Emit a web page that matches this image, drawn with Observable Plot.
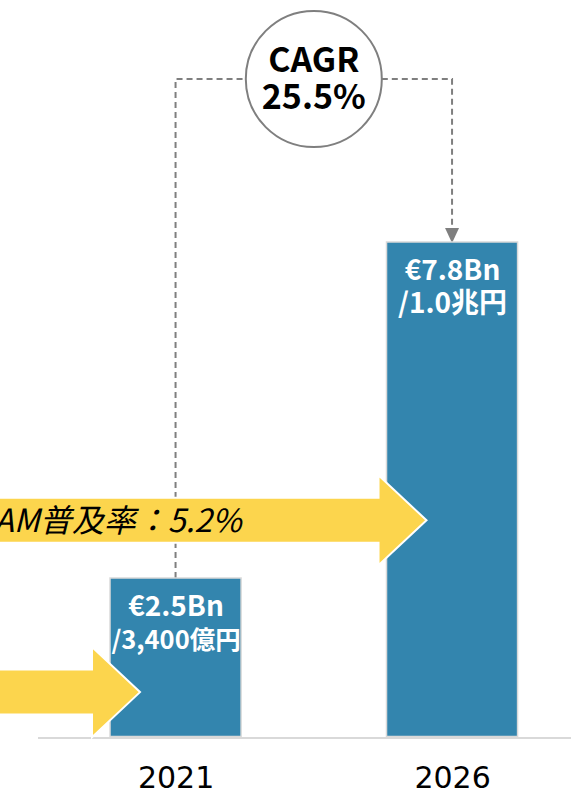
<!DOCTYPE html>
<html><head><meta charset="utf-8">
<script src="https://cdn.jsdelivr.net/npm/d3@7"></script>
<script src="https://cdn.jsdelivr.net/npm/@observablehq/plot@0.6"></script>
<style>
html,body{margin:0;padding:0;background:#fff;}
#chart{width:571px;height:795px;overflow:hidden;}
</style></head><body><div id="chart"></div>
<script>
// ---- data ----
const years = ["2021", "2026"];
const marketEur = [2.5, 7.8];               // € billions
const labelEur = ["€2.5Bn", "€7.8Bn"];
const labelJpy = ["/3,400億円", "/1.0兆円"];
const cagrLines = ["CAGR", "25.5%"];
const arrowTargets = ["2021", "2026"];
const arrowLevels = [0.70, 3.41];           // in € billions (value axis)
const arrowLabels = ["", "SAM普及率：5.2%"];

const data = years.map((year, i) => ({year, value: marketEur[i], eur: labelEur[i], jpy: labelJpy[i]}));
const arrows = arrowTargets.map((target, i) => ({target, level: arrowLevels[i], label: arrowLabels[i]}));

// ---- styles ----
const FONT = "'Noto Sans CJK JP', 'Noto Sans', sans-serif";
const BAR = "#3385ae";
const YELLOW = "#fcd54d";
const GREY = "#7f7f7f";

function bw(sx) { return typeof sx.bandwidth === "function" ? sx.bandwidth() : sx.bandwidth; }

// dashed CAGR connector with circle
function connector(index, scales) {
  const sx = scales.x, sy = scales.y, b = bw(sx);
  const x0 = sx(years[0]) + b / 2, x1 = sx(years[1]) + b / 2;
  const y0 = sy(marketEur[0]), y1 = sy(marketEur[1]);
  const top = 79, cx = (x0 + x1) / 2, r = 68;
  const g = d3.create("svg:g");
  g.append("path")
    .attr("d", `M${x0},${y0}V${top}H${cx - r}M${cx + r},${top}H${x1}V${y1 - 13}`)
    .attr("fill", "none").attr("stroke", GREY).attr("stroke-width", 2).attr("stroke-dasharray", "6,4");
  g.append("path")
    .attr("d", `M${x1 - 7},${y1 - 14}L${x1 + 7},${y1 - 14}L${x1},${y1 + 1}Z`)
    .attr("fill", GREY);
  g.append("circle").attr("cx", cx).attr("cy", top).attr("r", r)
    .attr("fill", "white").attr("stroke", GREY).attr("stroke-width", 2);
  const t = g.append("text").attr("text-anchor", "middle").attr("font-size", 34)
    .attr("font-weight", "bold").attr("font-family", FONT).attr("fill", "#000");
  t.append("tspan").attr("x", cx).attr("y", top - 19).attr("dy", "0.35em").text(cagrLines[0]);
  t.append("tspan").attr("x", cx).attr("y", top + 18).attr("dy", "0.35em").text(cagrLines[1]);
  return g.node();
}

// yellow block arrows pointing into the bars
const tipInset = [30, 40];
function yellowArrows(index, scales) {
  const sx = scales.x, sy = scales.y;
  const g = d3.create("svg:g");
  arrows.forEach((a, i) => {
    const tip = sx(a.target) + tipInset[i];
    const cy = sy(a.level);
    const bh = 22.5, hh = 45, hl = 48, base = tip - hl;
    g.append("path")
      .attr("d", `M-20,${cy - bh}H${base}V${cy - hh}L${tip},${cy}L${base},${cy + hh}V${cy + bh}H-20Z`)
      .attr("fill", YELLOW).attr("stroke", "white").attr("stroke-width", 2).attr("stroke-linejoin", "miter");
    if (a.label) {
      g.append("text").attr("x", tip - 185).attr("y", cy).attr("dy", "0.35em")
        .attr("text-anchor", "end").attr("font-size", 32).attr("font-style", "italic")
        .attr("font-family", FONT).attr("fill", "#000").text(a.label);
    }
  });
  return g.node();
}

// shrink long labels so they fit inside the bar
const fitSize = (s) => (s.length > 7 ? 25.5 : 28);

const chart = Plot.plot({
  width: 571,
  height: 795,
  marginLeft: 38,
  marginRight: 0,
  marginTop: 0,
  marginBottom: 0,
  style: {fontFamily: FONT, background: "white", overflow: "visible"},
  x: {type: "band", domain: years, range: [37.3, 590.3], paddingInner: 0.526, paddingOuter: 0.263, round: false, axis: null},
  y: {domain: [0, 7.8], range: [736.5, 242], axis: null},
  marks: [
    Plot.ruleY([0], {stroke: "#d9d9d9", strokeWidth: 2, dy: 1}),
    connector,
    Plot.barY(data, {x: "year", y: "value", fill: BAR, stroke: "#d9d9d9", strokeWidth: 1.5}),
    Plot.text(data, {x: "year", y: "value", text: "eur", dy: 29, fill: "white", fontSize: 28, fontWeight: "bold"}),
    Plot.text(data, {x: "year", y: "value", text: "jpy", dy: 62, fill: "white", fontSize: (d) => fitSize(d.jpy), fontWeight: "bold"}),
    yellowArrows,
    Plot.text(data, {x: "year", y: () => 0, text: "year", dy: 41, fill: "#000", fontSize: 30, fontFamily: "'DejaVu Sans', sans-serif"})
  ]
});
document.getElementById("chart").appendChild(chart);
</script>
</body></html>
